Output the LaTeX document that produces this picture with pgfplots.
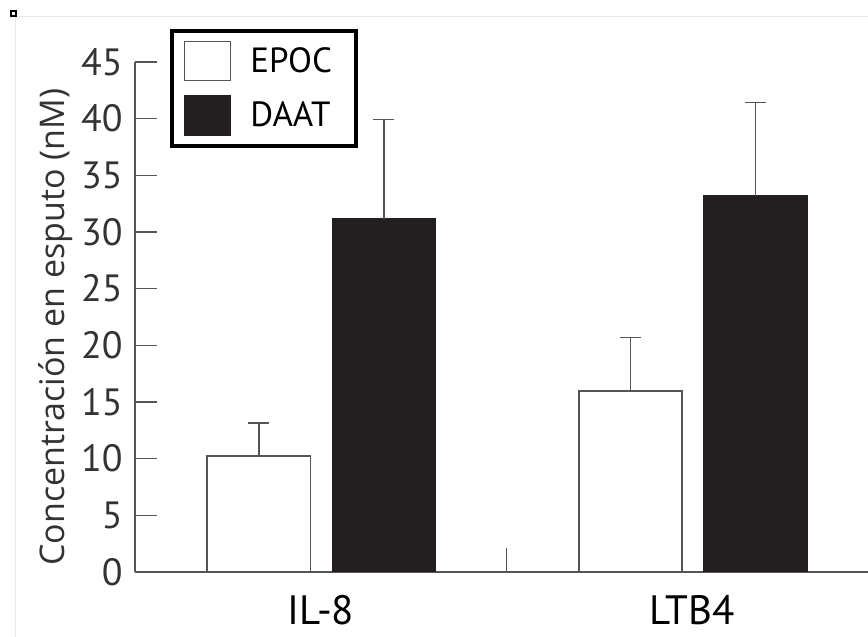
\documentclass[border=0pt]{standalone}
\usepackage{fontspec}
\setmainfont{PT Sans}
\newfontfamily\labfont{Open Sans}
\usepackage{pgfplots}
\pgfplotsset{compat=1.18}
\definecolor{barblack}{HTML}{231F20}
\definecolor{linegray}{HTML}{555555}
\begin{document}
\begin{tikzpicture}
\begin{axis}[
  at={(0pt,0pt)}, anchor=south west,
  scale only axis, width=366.5pt, height=255pt,
  xmin=0, xmax=1.973, ymin=0, ymax=45,
  axis x line=bottom, axis y line=left,
  axis line style={-, draw=linegray, line width=0.8pt},
  ytick={0,5,...,45},
  tick align=inside, major tick length=11pt,
  tick style={draw=linegray, line width=0.8pt},
  xtick={0.5,1.5}, xticklabels={IL-8,LTB4},
  x tick style={draw=none},
  /pgf/number format/assume math mode=true,
  y tick label style={font=\fontsize{19}{19}\selectfont, text=black!80, inner sep=0pt, xshift=-6pt},
  x tick label style={font=\fontsize{20.5}{20.5}\selectfont, text=black, inner sep=0pt, yshift=-11.5pt},
  every axis y label/.style={at={(axis description cs:-0.075,0.48)}, rotate=90, anchor=south},
  ylabel={\labfont\fontsize{17}{17}\selectfont\color{black!80}Concentración en esputo (nM)},
  legend style={at={(rel axis cs:0.0477,1.0647)}, anchor=north west, draw=black, line width=2pt,
    inner xsep=6pt, inner ysep=5pt, row sep=7pt, column sep=9.5pt,
    nodes={inner sep=0pt, text width=47pt, font=\fontsize{17.5}{17.5}\selectfont}},
  legend cell align=left,
]
\addplot[ybar, bar width=0.278, bar shift=0pt, draw=linegray, line width=0.75pt, fill=white,
  legend image code/.code={\draw[draw=linegray, fill=white, line width=0.75pt] (0pt,-9.75pt) rectangle (23pt,9.75pt);},
  error bars/.cd, y dir=plus, y explicit,
  error bar style={draw=linegray, line width=0.8pt},
  error mark options={rotate=90, draw=linegray, line width=0.8pt, mark size=5.25pt}]
  coordinates {(0.333,10.25) +- (0,2.9) (1.334,15.97) +- (0,4.73)};
\addlegendentry{EPOC}
\addplot[ybar, bar width=0.278, bar shift=0pt, draw=barblack, line width=0.75pt, fill=barblack,
  legend image code/.code={\draw[draw=barblack, fill=barblack, line width=0.75pt] (0pt,-9.75pt) rectangle (23pt,9.75pt);},
  error bars/.cd, y dir=plus, y explicit,
  error bar style={draw=linegray, line width=0.8pt},
  error mark options={rotate=90, draw=linegray, line width=0.8pt, mark size=5.25pt}]
  coordinates {(0.670,31.15) +- (0,8.79) (1.670,33.18) +- (0,8.26)};
\addlegendentry{DAAT}
\draw[linegray, line width=0.6pt] (axis cs:1,0) -- ++(0pt,12pt);
\end{axis}
\draw[black!8, line width=0.5pt] (-59.5pt,277.5pt) -- (366.5pt,277.5pt);
\draw[black!8, line width=0.5pt] (-59.5pt,277.5pt) -- (-59.5pt,-32.5pt);
\draw[black, line width=1pt, fill=white] (-62pt,280.5pt) rectangle (-59.5pt,278pt);
\pgfresetboundingbox
\path (-67.5pt,-32.5pt) rectangle (366.5pt,286pt);
\end{tikzpicture}
\end{document}
